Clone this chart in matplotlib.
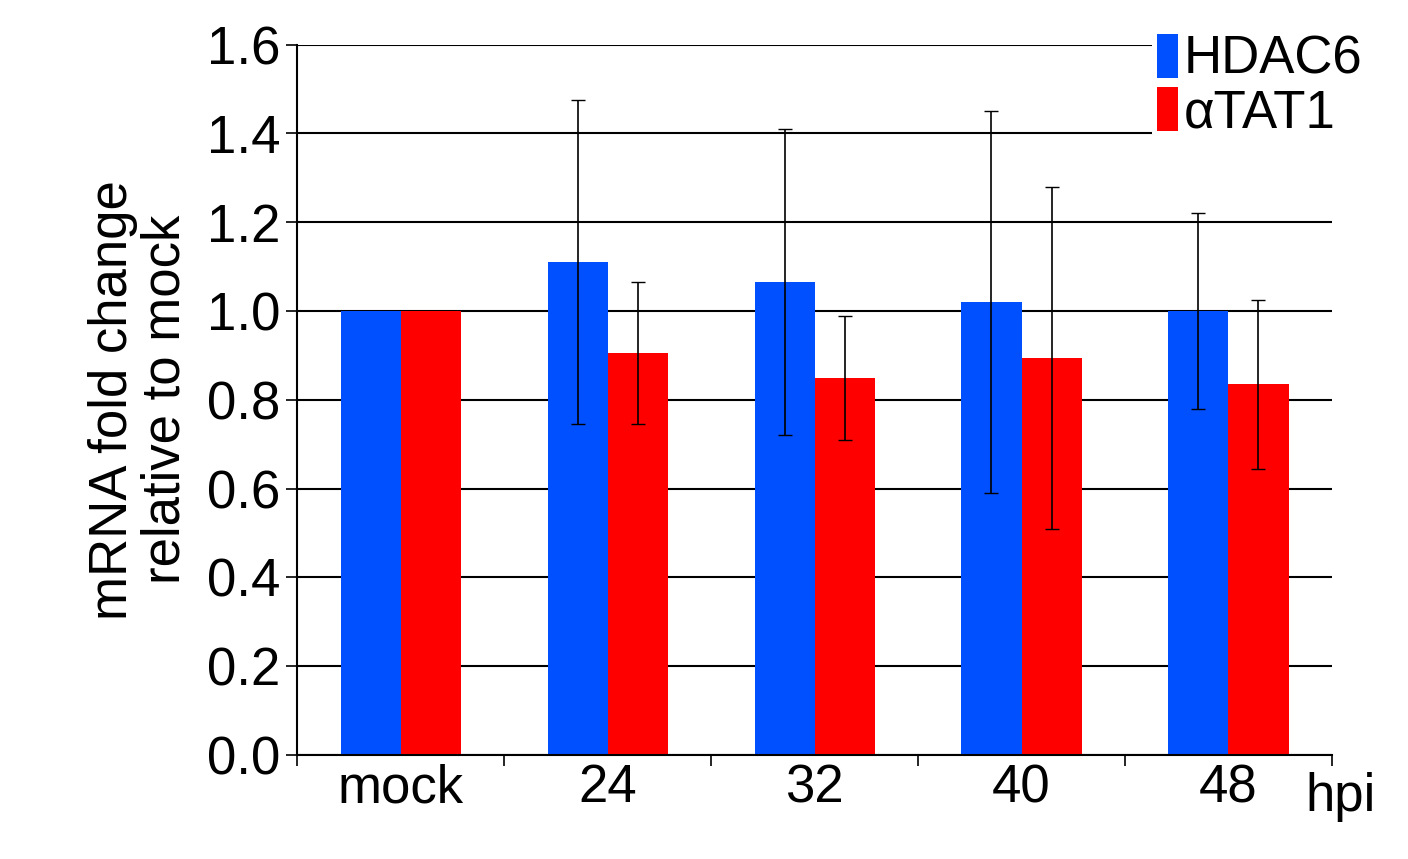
import numpy as np
import matplotlib.pyplot as plt

plt.rcParams['font.family'] = ['Liberation Sans', 'DejaVu Sans']

groups = ['mock', '24', '32', '40', '48']
hdac6 = [1.0, 1.11, 1.065, 1.02, 1.0]
hdac6_err = [0, 0.365, 0.345, 0.43, 0.22]
atat1 = [1.0, 0.905, 0.85, 0.895, 0.835]
atat1_err = [0, 0.16, 0.14, 0.385, 0.19]

fig = plt.figure(figsize=(14.08, 8.59), dpi=100)
ax = fig.add_axes([0.211, 0.121, 0.735, 0.827])

x = np.arange(len(groups))
w = 0.29
fs = 38
ax.set_axisbelow(True)
ax.yaxis.grid(True, color='black', linewidth=1.5)
ax.bar(x - w / 2, hdac6, w, color='#0050ff', label='HDAC6',
       yerr=[e if e else np.nan for e in hdac6_err], error_kw=dict(ecolor='black', elinewidth=1.2, capsize=5))
ax.bar(x + w / 2, atat1, w, color='#ff0000', label='\u03b1TAT1',
       yerr=[e if e else np.nan for e in atat1_err], error_kw=dict(ecolor='black', elinewidth=1.2, capsize=5))

ax.set_xlim(-0.5, 4.5)
ax.set_ylim(0, 1.6)
ax.set_yticks(np.arange(0, 1.61, 0.2))
ax.set_yticklabels(['%.1f' % v for v in np.arange(0, 1.61, 0.2)], fontsize=fs)
ax.set_xticks(np.arange(-0.5, 4.6, 1))
ax.set_xticklabels([])
ax.set_xticks(x, minor=True)
ax.set_xticklabels(groups, minor=True, fontsize=fs)
ax.tick_params(axis='x', which='minor', length=0, pad=6)
ax.tick_params(axis='x', which='major', length=8, width=1.2)
ax.tick_params(axis='y', length=8, width=1.2, pad=4)
for s in ['top', 'right']:
    ax.spines[s].set_visible(False)
for s in ['left', 'bottom']:
    ax.spines[s].set_linewidth(1.5)
ax.text(4.37, -0.095, 'hpi', fontsize=fs, ha='left', va='center', clip_on=False)
ax.set_ylabel('mRNA fold change\nrelative to mock', fontsize=fs, linespacing=1.05, labelpad=12)

leg = ax.legend(loc='upper right', bbox_to_anchor=(1.06, 1.06), fontsize=fs, frameon=True,
                fancybox=False, edgecolor='none', handlelength=0.4, handleheight=0.9,
                handletextpad=0.1, labelspacing=0.05, borderpad=0.1)
leg.get_frame().set_facecolor('white')
leg.get_frame().set_alpha(1)

fig.savefig('out.png', dpi=100)
